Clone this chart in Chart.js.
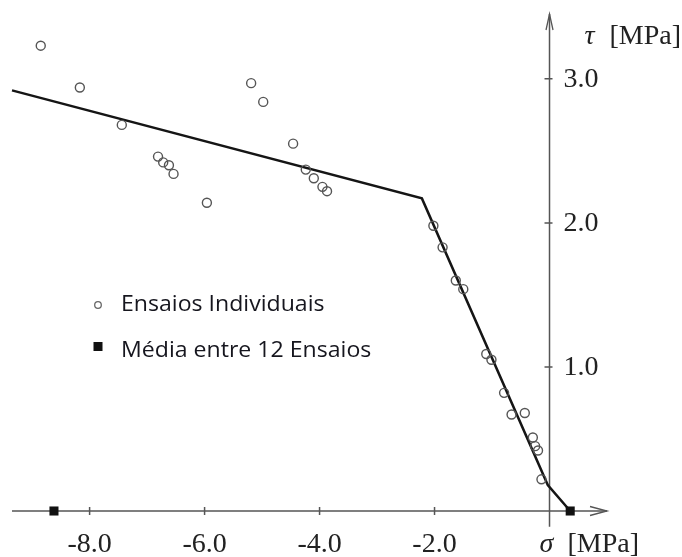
<!DOCTYPE html>
<html>
<head>
<meta charset="utf-8">
<script src="https://cdn.jsdelivr.net/npm/chart.js@4/dist/chart.umd.min.js"></script>
<style>
html,body{margin:0;padding:0;background:#fff;}
canvas{display:block;}
</style>
</head>
<body>
<canvas id="c" width="682" height="557"></canvas>
<script>
// ---- data ----
const individualSigma = [-8.85,-8.17,-7.44,-6.81,-6.72,-6.62,-6.54,-5.96,-5.19,-4.98,-4.46,-4.24,-4.10,-3.95,-3.87,
  -2.02,-1.86,-1.63,-1.50,-1.10,-1.01,-0.79,-0.66,-0.43,-0.29,-0.25,-0.20,-0.14];
const individualTau = [3.23,2.94,2.68,2.46,2.42,2.40,2.34,2.14,2.97,2.84,2.55,2.37,2.31,2.25,2.22,
  1.98,1.83,1.60,1.54,1.09,1.05,0.82,0.67,0.68,0.51,0.45,0.42,0.22];
const meanSigma = [-8.62, 0.36];
const meanTau = [0, 0];
const envelopeSigma = [-9.35, -2.22, -0.03, 0.36];
const envelopeTau = [2.92, 2.17, 0.18, 0];
const xTickValues = [-8, -6, -4, -2];
const yTickValues = [1, 2, 3];
const xTickLabels = ['-8.0', '-6.0', '-4.0', '-2.0'];
const yTickLabels = ['1.0', '2.0', '3.0'];
const seriesLabels = ['Ensaios Individuais', 'Média entre 12 Ensaios'];
const xAxisTitle = 'σ';
const yAxisTitle = 'τ';
const unitText = '[MPa]';

const zip = (xs, ys) => xs.map((x, i) => ({x, y: ys[i]}));

const axesPlugin = {
  id: 'customAxes',
  beforeDatasetsDraw(chart) {
    const {ctx} = chart;
    const xs = chart.scales.x, ys = chart.scales.y;
    const x0 = xs.getPixelForValue(0), y0 = ys.getPixelForValue(0);
    const left = xs.getPixelForValue(xs.min), right = xs.getPixelForValue(xs.max);
    const top = ys.getPixelForValue(ys.max), bottom = ys.getPixelForValue(-0.11);
    ctx.save();
    ctx.strokeStyle = '#555';
    ctx.lineWidth = 1.5;
    ctx.beginPath();
    ctx.moveTo(left, y0); ctx.lineTo(right, y0);
    ctx.moveTo(x0, bottom); ctx.lineTo(x0, top);
    xTickValues.forEach(v => { const p = xs.getPixelForValue(v); ctx.moveTo(p, y0 - 4); ctx.lineTo(p, y0 + 4); });
    yTickValues.forEach(v => { const p = ys.getPixelForValue(v); ctx.moveTo(x0 - 5, p); ctx.lineTo(x0 + 3, p); });
    ctx.stroke();
    ctx.lineWidth = 1.3;
    ctx.beginPath();
    ctx.moveTo(right - 17, y0 - 4.5); ctx.lineTo(right, y0); ctx.lineTo(right - 17, y0 + 4.5);
    ctx.moveTo(x0 - 3.5, top + 16); ctx.lineTo(x0, top); ctx.lineTo(x0 + 3.5, top + 16);
    ctx.stroke();
    ctx.restore();
  },
  afterDraw(chart) {
    const {ctx} = chart;
    const xs = chart.scales.x, ys = chart.scales.y;
    const x0 = xs.getPixelForValue(0), y0 = ys.getPixelForValue(0);
    ctx.save();
    ctx.fillStyle = '#222';
    ctx.font = '28px "Liberation Serif"';
    ctx.textBaseline = 'alphabetic';
    ctx.textAlign = 'center';
    xTickValues.forEach((v, i) => ctx.fillText(xTickLabels[i], xs.getPixelForValue(v), y0 + 41));
    ctx.textAlign = 'left';
    ctx.textBaseline = 'middle';
    yTickValues.forEach((v, i) => ctx.fillText(yTickLabels[i], x0 + 14, ys.getPixelForValue(v) + 1));
    ctx.textBaseline = 'alphabetic';
    ctx.font = 'italic 28px "Liberation Serif"';
    ctx.fillText(xAxisTitle, x0 - 10, y0 + 41);
    ctx.fillText(yAxisTitle, x0 + 35, 44);
    ctx.font = '28px "Liberation Serif"';
    ctx.fillText(unitText, x0 + 18, y0 + 41);
    ctx.fillText(unitText, x0 + 60, 44);
    // legend
    const ds = chart.data.datasets;
    ctx.fillStyle = '#16161e';
    ctx.textBaseline = 'middle';
    ctx.font = '21px "Open Sans"';
    ctx.save();
    ctx.translate(121, 0);
    ctx.scale(1.1, 1);
    ctx.fillText(ds[1].label, 0, 305);
    ctx.fillText(ds[2].label, 0, 351);
    ctx.restore();
    ctx.strokeStyle = '#666'; ctx.lineWidth = 1.3;
    ctx.beginPath(); ctx.arc(98, 305, 3.3, 0, Math.PI * 2); ctx.stroke();
    ctx.fillStyle = '#111';
    ctx.fillRect(93.5, 342, 9, 9);
    ctx.restore();
  }
};

new Chart(document.getElementById('c'), {
  type: 'scatter',
  data: {
    datasets: [
      {
        label: 'Envoltória',
        data: zip(envelopeSigma, envelopeTau),
        showLine: true,
        borderColor: '#151515',
        borderWidth: 2.5,
        pointRadius: 0,
        fill: false,
        clip: false,
        order: 3
      },
      {
        label: seriesLabels[0],
        data: zip(individualSigma, individualTau),
        pointStyle: 'circle',
        pointRadius: 4.5,
        pointBorderColor: '#555',
        pointBackgroundColor: 'rgba(255,255,255,0)',
        pointBorderWidth: 1.4,
        clip: false,
        order: 2
      },
      {
        label: seriesLabels[1],
        data: zip(meanSigma, meanTau),
        pointStyle: 'rect',
        pointRadius: 6.4,
        pointBorderColor: '#111',
        pointBackgroundColor: '#111',
        pointBorderWidth: 0,
        clip: false,
        order: 1
      }
    ]
  },
  options: {
    responsive: false,
    animation: false,
    layout: { padding: { left: 12, right: 75, top: 14, bottom: 46 } },
    plugins: { legend: { display: false }, tooltip: { enabled: false } },
    scales: {
      x: { type: 'linear', min: -9.35, max: 1.0, display: false },
      y: { type: 'linear', min: 0, max: 3.45, display: false }
    }
  },
  plugins: [axesPlugin]
});
</script>
</body>
</html>
